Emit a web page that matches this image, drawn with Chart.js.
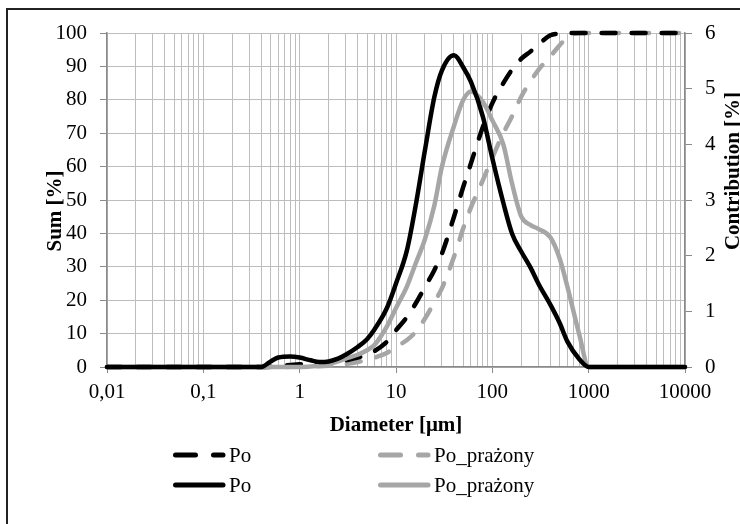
<!DOCTYPE html>
<html><head><meta charset="utf-8">
<script src="https://cdn.jsdelivr.net/npm/chart.js@4/dist/chart.umd.min.js"></script>
<style>
html,body{margin:0;padding:0;background:#fff;overflow:hidden}
#wrap{position:relative;width:740px;height:524px;overflow:hidden}
#frame{position:absolute;left:6px;top:8px;width:800px;height:600px;border:2px solid #222;box-sizing:border-box;pointer-events:none}
canvas{position:absolute;left:0;top:0}
</style></head><body>
<div id="wrap"><canvas id="c" width="740" height="524"></canvas><div id="frame"></div></div>
<script>
// ---- data ----
const diameters = [0.01,0.02,0.05,0.1,0.2,0.3,0.4,0.5,0.6,0.8,
  1,1.3,1.6,2,2.5,3,4,5,6,8,
  10,13,16,20,25,30,40,50,60,80,
  100,130,160,200,250,300,400,500,600,800,
  1000,1300,2000,5000,10000];
const poSum = [0,0,0,0,0,0,0,0.1,0.3,0.6,
  0.8,1.0,1.1,1.3,1.6,2.0,2.8,3.8,4.8,7.5,
  11,15,19,24,29,34,45,54,61,72,
  79,85,89,92.3,94.5,96.5,99.3,99.8,100,100,
  100,100,100,100,100];
const poPrazonySum = [0,0,0,0,0,0,0,0,0,0.05,
  0.1,0.15,0.25,0.4,0.6,0.9,1.5,2.1,2.8,4.2,
  6,8.1,10.5,14.5,19.4,23.6,33,41.6,47.8,56,
  62.7,70,75,81,85.6,88.9,93,96.3,98.7,100,
  100,100,100,100,100];
const poContribution = [0,0,0,0,0,0,0,0.1,0.17,0.19,
  0.17,0.12,0.09,0.1,0.15,0.22,0.36,0.5,0.68,1.05,
  1.5,2.1,2.9,3.9,4.85,5.33,5.6,5.38,5.12,4.49,
  3.75,2.95,2.4,2.07,1.78,1.5,1.12,0.79,0.46,0.14,
  0,0,0,0,0];
const poPrazonyContribution = [0,0,0,0,0,0,0,0,0,0,
  0,0.01,0.02,0.05,0.1,0.15,0.22,0.3,0.4,0.72,
  1.06,1.45,1.86,2.3,2.9,3.6,4.33,4.8,4.95,4.76,
  4.43,4.0,3.3,2.7,2.55,2.48,2.33,1.95,1.45,0.58,
  0,0,0,0,0];
const xTickValues = [0.01,0.1,1,10,100,1000,10000];
const xTickLabels = ['0,01','0,1','1','10','100','1000','10000'];
const seriesNames = ['Po','Po_prażony'];
const xTitle = 'Diameter [μm]';
const leftTitle = 'Sum [%]';
const rightTitle = 'Contribution [%]';

// ---- styling ----
const FONT = '"Liberation Serif","Times New Roman",serif';
const BLACK = '#000000';
const GRAY = '#a6a6a6';
const GRID = '#bdbdbd';
const AXIS = '#8a8a8a';

const pts = arr => diameters.map((d,i)=>({x:d,y:arr[i]}));

const datasets = [
  {label:seriesNames[0], data:pts(poContribution), yAxisID:'yR', borderColor:BLACK, borderWidth:4.5, borderDash:[]},
  {label:seriesNames[1], data:pts(poPrazonyContribution), yAxisID:'yR', borderColor:GRAY, borderWidth:4.5, borderDash:[]},
  {label:seriesNames[0], data:pts(poSum), yAxisID:'y', borderColor:BLACK, borderWidth:4.5, borderDash:[14,16]},
  {label:seriesNames[1], data:pts(poPrazonySum), yAxisID:'y', borderColor:GRAY, borderWidth:4.5, borderDash:[14,16]}
].map(d=>Object.assign(d,{pointRadius:0, fill:false, cubicInterpolationMode:'monotone', borderCapStyle:'round', borderJoinStyle:'round', clip:false}));

const legendLayout = [
  {ds:2, x:173, y:455}, {ds:3, x:378, y:455},
  {ds:0, x:173, y:485}, {ds:1, x:378, y:485}
];

const extras = {
  id:'extras',
  afterDraw(chart){
    const ctx = chart.ctx;
    ctx.save();
    ctx.fillStyle = '#000';
    ctx.font = 'bold 21px '+FONT;
    ctx.textAlign = 'center'; ctx.textBaseline = 'middle';
    ctx.save(); ctx.translate(56,211); ctx.rotate(-Math.PI/2); ctx.fillText(leftTitle,0,0); ctx.restore();
    ctx.save(); ctx.translate(734,171); ctx.rotate(-Math.PI/2); ctx.fillText(rightTitle,0,0); ctx.restore();
    // legend
    ctx.font = '21px '+FONT;
    ctx.textAlign = 'left';
    legendLayout.forEach(item=>{
      const ds = chart.data.datasets[item.ds];
      ctx.save();
      ctx.strokeStyle = ds.borderColor;
      ctx.lineWidth = 5;
      ctx.lineCap = 'round';
      ctx.setLineDash(ds.borderDash.length ? [20,18] : []);
      ctx.beginPath(); ctx.moveTo(item.x+2.5, item.y); ctx.lineTo(item.x+50, item.y); ctx.stroke();
      ctx.restore();
      ctx.fillStyle = '#000';
      ctx.fillText(ds.label, item.x+56, item.y+1);
    });
    ctx.restore();
  }
};

new Chart(document.getElementById('c'), {
  type:'line',
  data:{datasets},
  options:{
    responsive:false, animation:false, devicePixelRatio:1,
    layout:{padding:{left:0,right:0,top:33,bottom:86}},
    plugins:{legend:{display:false}, tooltip:{enabled:false}},
    scales:{
      x:{
        type:'logarithmic', position:'bottom', min:0.01, max:10000,
        afterBuildTicks(scale){
          const t=[];
          for(let e=-2;e<=4;e++){ for(let m=1;m<=9;m++){ const v=m*Math.pow(10,e); if(v<=10000) t.push({value:+v.toPrecision(6)}); } }
          scale.ticks = t;
        },
        afterFit(scale){ scale.height = 71; },
        ticks:{autoSkip:false, maxRotation:0, padding:7, color:'#000', font:{family:FONT,size:21},
          callback(v){ const i = xTickValues.findIndex(t=>Math.abs(t-v)/t<1e-6); return i>=0 ? xTickLabels[i] : ''; }},
        grid:{color:GRID, lineWidth:1, tickLength:6,
          tickColor(ctx){ const v = ctx.tick && ctx.tick.value; return xTickValues.some(t=>Math.abs(t-v)/t<1e-6) ? AXIS : 'rgba(0,0,0,0)'; }},
        border:{color:AXIS, width:1.5},
        title:{display:true, text:xTitle, color:'#000', font:{family:FONT,size:21,weight:'bold'}, padding:0}
      },
      y:{
        position:'left', min:0, max:100,
        afterFit(scale){ scale.width = 107; },
        ticks:{stepSize:10, padding:13, color:'#000', font:{family:FONT,size:21}},
        grid:{color:GRID, lineWidth:1, tickLength:7, tickColor:AXIS},
        border:{color:AXIS, width:1.5}
      },
      yR:{
        position:'right', min:0, max:6,
        afterFit(scale){ scale.width = 55; },
        ticks:{stepSize:1, padding:13, color:'#000', font:{family:FONT,size:21}},
        grid:{drawOnChartArea:false, tickLength:7, tickColor:AXIS},
        border:{color:AXIS, width:1.5}
      }
    }
  },
  plugins:[extras]
});
</script>
</body></html>
